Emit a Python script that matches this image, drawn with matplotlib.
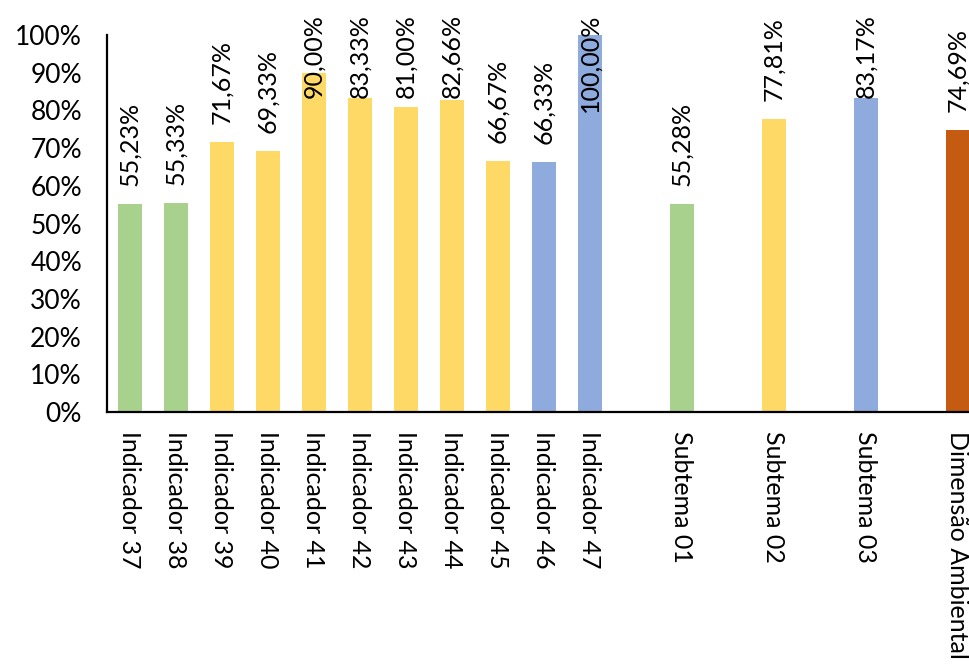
import matplotlib
matplotlib.use("Agg")
import matplotlib.pyplot as plt
from matplotlib.ticker import PercentFormatter

# Data
categories = ["Indicador 37", "Indicador 38", "Indicador 39", "Indicador 40",
              "Indicador 41", "Indicador 42", "Indicador 43", "Indicador 44",
              "Indicador 45", "Indicador 46", "Indicador 47",
              "Subtema 01", "Subtema 02", "Subtema 03", "Dimensão Ambiental"]
values = [55.23, 55.33, 71.67, 69.33, 90.00, 83.33, 81.00, 82.66,
          66.67, 66.33, 100.00, 55.28, 77.81, 83.17, 74.69]
groups = ["s1", "s1", "s2", "s2", "s2", "s2", "s2", "s2",
          "s2", "s3", "s3", "s1", "s2", "s3", "dim"]
# slot index on the category axis (blank slots between the summary bars)
slots = [0, 1, 2, 3, 4, 5, 6, 7, 8, 9, 10, 12, 14, 16, 18]

colors = {"s1": "#A9D18E", "s2": "#FFD966", "s3": "#8FAADC", "dim": "#C55A11"}

plt.rcParams["font.family"] = ["Lato", "DejaVu Sans"]

fig = plt.figure(figsize=(9.70, 6.66), dpi=100)
ax = fig.add_axes([107 / 970, 1 - 412 / 666, 874 / 970, 377 / 666])

bar_colors = [colors[g] for g in groups]
ax.bar(slots, values, width=0.52, color=bar_colors)

ax.set_xlim(-0.5, 18.5)
ax.set_ylim(0, 100)
ax.set_yticks(range(0, 101, 10))
ax.yaxis.set_major_formatter(PercentFormatter(decimals=0))
ax.tick_params(axis="y", length=0, pad=18, labelsize=19)
ax.set_xticks(slots)
ax.set_xticklabels(categories, rotation=270, fontsize=18, va="top", ha="center")
ax.tick_params(axis="x", length=0, pad=14)

for s in ["top", "right"]:
    ax.spines[s].set_visible(False)
for s in ["left", "bottom"]:
    ax.spines[s].set_linewidth(1.6)
    ax.spines[s].set_color("black")

# value labels, pushed down when they would run off the top of the figure
offset = 13
labels = []
for x, v in zip(slots, values):
    txt = ax.annotate(f"{v:.2f}%".replace(".", ","), xy=(x, v), xytext=(0, offset),
                      textcoords="offset points", rotation=90,
                      ha="center", va="bottom", fontsize=18, clip_on=False)
    labels.append(txt)

fig.canvas.draw()
renderer = fig.canvas.get_renderer()
top_limit = fig.bbox.height - 14
for txt in labels:
    bb = txt.get_window_extent(renderer)
    if bb.y1 > top_limit:
        shift = (bb.y1 - top_limit) * 72 / fig.dpi
        txt.set_position((0, offset - shift))

fig.savefig("out.png", dpi=100)
